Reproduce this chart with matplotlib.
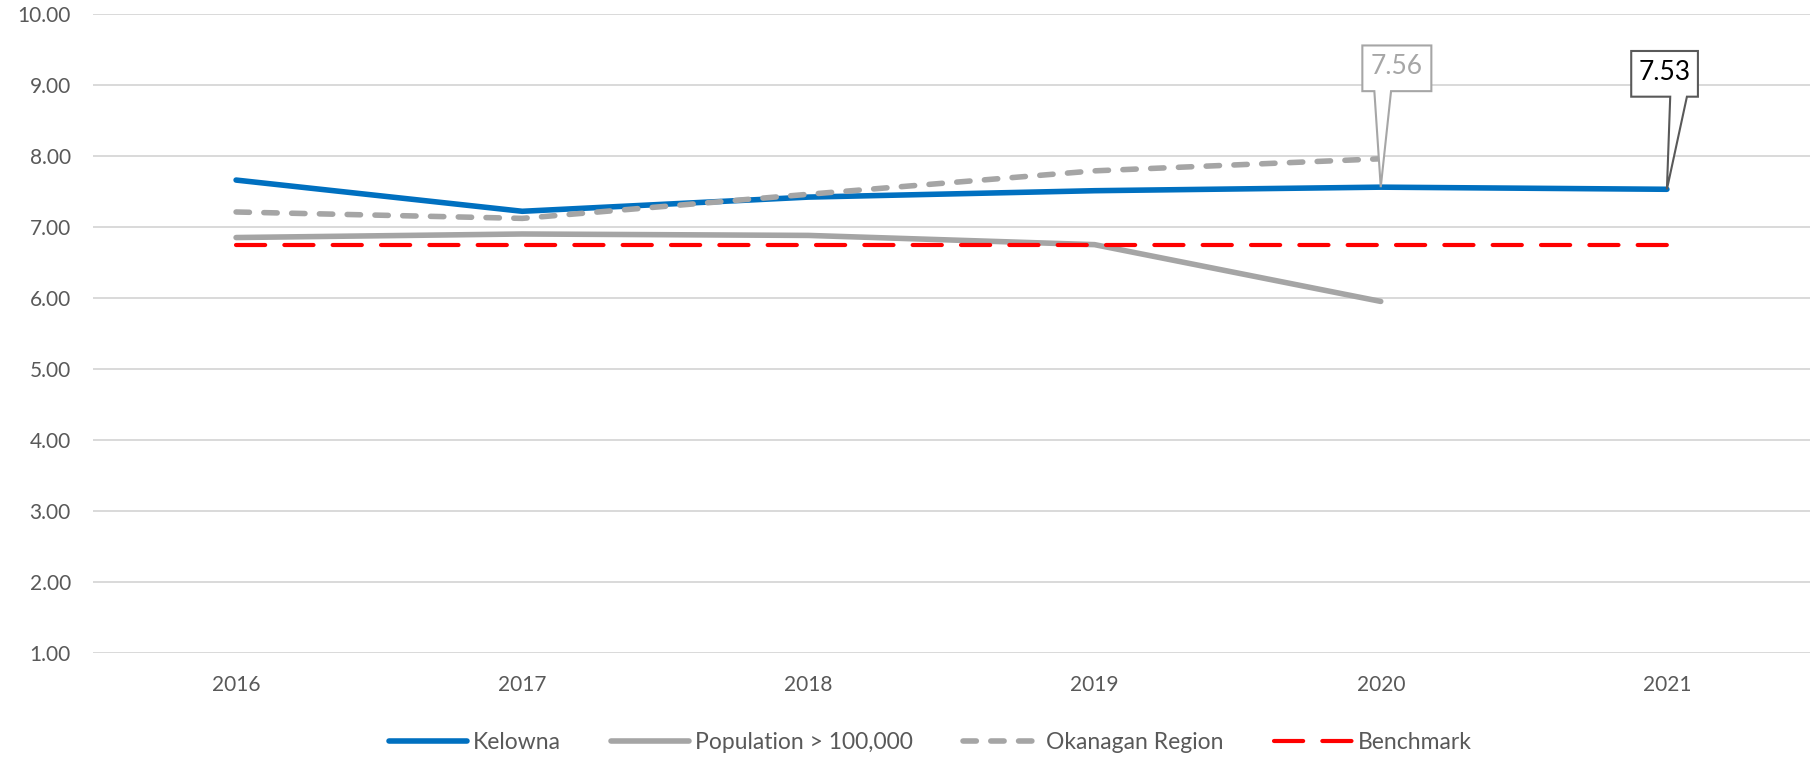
import matplotlib
matplotlib.use("Agg")
import matplotlib.pyplot as plt
from matplotlib.patches import Polygon
from matplotlib.transforms import Affine2D, ScaledTranslation
from matplotlib.ticker import FormatStrFormatter

plt.rcParams["font.family"] = ["Lato", "DejaVu Sans"]

# --- data -------------------------------------------------------------
years = ["2016", "2017", "2018", "2019", "2020", "2021"]
kelowna = [7.66, 7.22, 7.42, 7.51, 7.56, 7.53]
population_100k = [6.85, 6.90, 6.88, 6.75, 5.95]
okanagan = [7.21, 7.12, 7.46, 7.79, 7.96]
benchmark = [6.75, 6.75, 6.75, 6.75, 6.75, 6.75]
y_ticks = [1, 2, 3, 4, 5, 6, 7, 8, 9, 10]

# --- styling ----------------------------------------------------------
BLUE = "#0070C0"
GRAY = "#A5A5A5"
RED = "#FF0000"
GRID = "#D9D9D9"
TXT = "#595959"

fig = plt.figure(figsize=(18.10, 7.61), dpi=100)
ax = fig.add_axes([93 / 1810, 1 - 652.7 / 761, 1 - 93 / 1810, (652.7 - 14) / 761])

x_all = list(range(len(years)))

ax.plot(x_all[:len(kelowna)], kelowna, color=BLUE, lw=4,
        solid_capstyle="round", label="Kelowna", zorder=3)
ax.plot(x_all[:len(population_100k)], population_100k, color=GRAY, lw=4,
        solid_capstyle="round", label="Population > 100,000", zorder=4)
ax.plot(x_all[:len(okanagan)], okanagan, color=GRAY, lw=4,
        dashes=(2.4, 2.6), dash_capstyle="round",
        label="Okanagan Region", zorder=5)
ax.plot(x_all[:len(benchmark)], benchmark, color=RED, lw=3,
        dashes=(7, 4.6), dash_capstyle="round", label="Benchmark", zorder=6)

ax.set_xlim(-0.5, len(years) - 0.5)
ax.set_ylim(min(y_ticks), max(y_ticks))
ax.set_xticks(x_all)
ax.set_xticklabels(years)
ax.set_yticks(y_ticks)
ax.yaxis.set_major_formatter(FormatStrFormatter("%.2f"))
ax.tick_params(axis="both", length=0, colors=TXT)
ax.tick_params(axis="y", labelsize=15, pad=16)
ax.tick_params(axis="x", labelsize=15, pad=16)
ax.grid(axis="y", color=GRID, lw=1.4)
ax.set_axisbelow(True)
for s in ax.spines.values():
    s.set_visible(False)


def callout(xi, value, box, base, edge, text_color):
    """Rectangular callout with a pointer to (xi, value); geometry in points."""
    left, right, bottom, top = box
    b1, b2 = base
    trans = Affine2D().scale(1 / 72) + fig.dpi_scale_trans + \
        ScaledTranslation(xi, value, ax.transData)
    verts = [(left, bottom), (b1, bottom), (0, 0), (b2, bottom),
             (right, bottom), (right, top), (left, top)]
    ax.add_patch(Polygon(verts, closed=True, transform=trans, facecolor="white",
                         edgecolor=edge, lw=1.5, zorder=8, clip_on=False))
    ax.text((left + right) / 2, (bottom + top) / 2 + 1, f"{value:.2f}",
            transform=trans, ha="center", va="center", fontsize=19,
            color=text_color, zorder=9)


p = 0.72  # pixels -> points at 100 dpi
callout(4, kelowna[4], (-18.4 * p, 50.6 * p, 96 * p, 141.7 * p),
        (-6.4 * p, 10.3 * p), "#A6A6A6", "#A6A6A6")
callout(5, kelowna[5], (-35.7 * p, 31 * p, 92.6 * p, 138.3 * p),
        (3.3 * p, 20 * p), "#595959", "black")

leg = fig.legend(loc="center", bbox_to_anchor=(0.514, 0.024), ncol=4,
                 frameon=False, fontsize=16.5, handlelength=3.4,
                 handletextpad=0.25, columnspacing=2.2)
for t in leg.get_texts():
    t.set_color(TXT)

fig.savefig("out.png", dpi=100, facecolor="white")
